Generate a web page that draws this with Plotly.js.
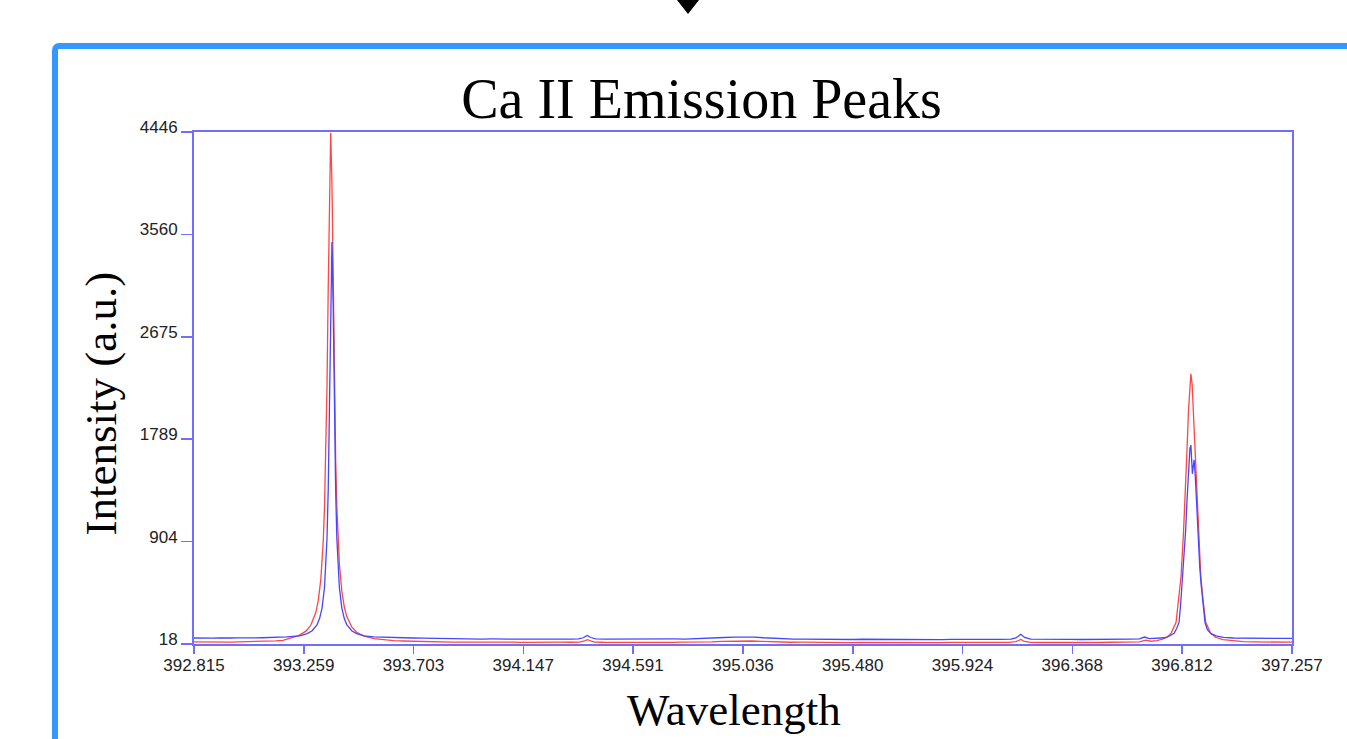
<!DOCTYPE html>
<html>
<head>
<meta charset="utf-8">
<script src="https://cdn.plot.ly/plotly-3.0.1.min.js"></script>
<style>
  html, body { margin: 0; padding: 0; background: #ffffff; overflow: hidden; }
  #pointer {
    position: absolute; left: 677px; top: 0px; width: 0; height: 0;
    border-left: 11.5px solid transparent; border-right: 11.5px solid transparent;
    border-top: 14px solid #000000;
  }
  #panel {
    position: absolute; left: 52px; top: 43px; width: 1400px; height: 800px;
    border-left: 6px solid #3399ff; border-top: 6px solid #3399ff;
    border-top-left-radius: 7px;
  }
  #chart { position: absolute; left: 0; top: 0; width: 1347px; height: 739px; }
</style>
</head>
<body>
<div id="pointer"></div>
<div id="panel"></div>
<div id="chart"></div>
<script>
// Ca II H & K emission spectra, two acquisitions (red and blue)
const wavelengthRed = [
  392.815, 392.845, 392.875, 392.905, 392.935, 392.965, 392.995, 393.025, 393.055, 393.085,
  393.115, 393.145, 393.175, 393.198, 393.238, 393.268, 393.288, 393.308, 393.318, 393.328,
  393.338, 393.343, 393.348, 393.353, 393.358, 393.363, 393.368, 393.373, 393.378, 393.383,
  393.388, 393.393, 393.398, 393.403, 393.413, 393.423, 393.433, 393.453, 393.473, 393.503,
  393.543, 393.593, 393.623, 393.66, 393.70, 393.74, 393.78, 393.82, 393.86, 393.90,
  393.94, 393.98, 394.02, 394.06, 394.10, 394.14, 394.18, 394.22, 394.26, 394.30,
  394.34, 394.375, 394.395, 394.408, 394.42, 394.435, 394.47, 394.51, 394.55, 394.59,
  394.63, 394.67, 394.71, 394.75, 394.79, 394.83, 394.87, 394.91, 394.95, 394.99,
  395.03, 395.07, 395.11, 395.15, 395.19, 395.23, 395.27, 395.31, 395.35, 395.39,
  395.43, 395.47, 395.51, 395.55, 395.59, 395.63, 395.67, 395.71, 395.75, 395.79,
  395.83, 395.87, 395.91, 395.95, 395.99, 396.03, 396.07, 396.11, 396.14, 396.16,
  396.175, 396.20, 396.24, 396.28, 396.32, 396.36, 396.40, 396.44, 396.48, 396.52,
  396.56, 396.60, 396.64, 396.665, 396.685, 396.71, 396.73, 396.75, 396.768, 396.788,
  396.798, 396.808, 396.818, 396.823, 396.828, 396.833, 396.838, 396.843, 396.848, 396.853,
  396.858, 396.863, 396.868, 396.873, 396.878, 396.888, 396.898, 396.908, 396.928, 396.948,
  396.978, 397.02, 397.06, 397.10, 397.14, 397.18, 397.22, 397.257
];
const intensityRed = [
  36, 35, 37, 34, 36, 35, 37, 38, 37, 40,
  42, 45, 50, 66, 90, 129, 182, 292, 397, 577,
  916, 1202, 1623, 2242, 3091, 4009, 4440, 4009, 3091, 2242,
  1623, 1202, 916, 718, 474, 338, 255, 166, 120, 86,
  64, 52, 47, 44, 41, 39, 37, 36, 35, 34,
  35, 33, 34, 33, 35, 32, 34, 33, 32, 34,
  33, 35, 45, 56, 44, 35, 33, 32, 34, 33,
  32, 34, 33, 32, 34, 33, 35, 37, 40, 43,
  45, 44, 41, 37, 35, 33, 34, 32, 33, 31,
  32, 30, 32, 31, 30, 32, 31, 30, 32, 31,
  30, 32, 31, 30, 32, 31, 30, 32, 38, 58,
  40, 32, 31, 30, 32, 31, 30, 32, 31, 33,
  32, 34, 36, 52, 42, 48, 58, 75, 112, 205,
  380, 600, 979, 1189, 1444, 1735, 2030, 2262, 2355, 2262,
  2030, 1735, 1444, 1189, 979, 600, 380, 205, 110, 76,
  55, 44, 38, 36, 35, 34, 33, 34
];

const wavelengthBlue = [
  392.815, 392.84, 392.865, 392.89, 392.915, 392.94, 392.965, 392.99, 393.015, 393.04,
  393.065, 393.09, 393.115, 393.14, 393.165, 393.19, 393.243, 393.273, 393.293, 393.313,
  393.323, 393.333, 393.343, 393.348, 393.353, 393.358, 393.363, 393.368, 393.373, 393.378,
  393.383, 393.388, 393.393, 393.398, 393.403, 393.413, 393.423, 393.433, 393.453, 393.473,
  393.503, 393.543, 393.583, 393.62, 393.66, 393.70, 393.74, 393.78, 393.82, 393.86,
  393.90, 393.94, 393.98, 394.02, 394.06, 394.10, 394.14, 394.18, 394.22, 394.26,
  394.30, 394.34, 394.37, 394.39, 394.405, 394.42, 394.44, 394.48, 394.52, 394.56,
  394.60, 394.64, 394.68, 394.72, 394.76, 394.80, 394.84, 394.88, 394.92, 394.96,
  395.00, 395.04, 395.08, 395.12, 395.16, 395.20, 395.24, 395.28, 395.32, 395.36,
  395.40, 395.44, 395.48, 395.52, 395.56, 395.60, 395.64, 395.68, 395.72, 395.76,
  395.80, 395.84, 395.88, 395.92, 395.96, 396.00, 396.04, 396.08, 396.12, 396.14,
  396.16, 396.175, 396.20, 396.24, 396.28, 396.32, 396.36, 396.40, 396.44, 396.48,
  396.52, 396.56, 396.60, 396.64, 396.66, 396.68, 396.71, 396.74, 396.76, 396.78,
  396.79, 396.800, 396.807, 396.815, 396.822, 396.827, 396.832, 396.836, 396.840, 396.844,
  396.848, 396.851, 396.854, 396.858, 396.861, 396.865, 396.868, 396.872, 396.876, 396.880,
  396.884, 396.890, 396.897, 396.905, 396.915, 396.93, 396.95, 396.98, 397.02, 397.06,
  397.10, 397.14, 397.18, 397.22, 397.257
];
const intensityBlue = [
  70, 68, 71, 69, 70, 68, 70, 71, 69, 70,
  71, 72, 73, 75, 77, 80, 89, 108, 133, 186,
  238, 329, 509, 672, 929, 1349, 2036, 2963, 3495, 2963,
  2036, 1349, 929, 672, 509, 329, 238, 186, 133, 108,
  89, 80, 76, 74, 72, 70, 68, 66, 64, 63,
  62, 63, 61, 62, 60, 62, 60, 61, 59, 61,
  60, 61, 62, 72, 92, 74, 62, 60, 61, 59,
  60, 59, 61, 60, 62, 61, 63, 66, 70, 74,
  78, 80, 78, 72, 66, 62, 60, 61, 59, 60,
  58, 59, 57, 59, 58, 57, 59, 58, 56, 58,
  57, 56, 58, 57, 56, 58, 57, 58, 60, 70,
  102, 75, 60, 58, 57, 59, 58, 57, 59, 58,
  60, 59, 61, 62, 78, 64, 66, 72, 85, 110,
  150, 205, 375, 620, 880, 1010, 1250, 1450, 1620, 1710,
  1738, 1600, 1490, 1560, 1610, 1500, 1350, 1180, 990, 820,
  680, 520, 375, 205, 140, 108, 88, 76, 70, 68,
  67, 68, 66, 67, 66
];

const xTickValues = [392.815, 393.259, 393.703, 394.147, 394.591, 395.036, 395.480, 395.924, 396.368, 396.812, 397.257];
const xTickText = ["392.815", "393.259", "393.703", "394.147", "394.591", "395.036", "395.480", "395.924", "396.368", "396.812", "397.257"];
const yTickValues = [18, 904, 1789, 2675, 3560, 4446];
const yTickText = ["18", "904", "1789", "2675", "3560", "4446"];

const frameColor = "rgb(110,110,255)";
const serif = "'Liberation Serif', 'Times New Roman', serif";
const sans = "'Liberation Sans', Arial, sans-serif";

const traces = [
  {
    x: wavelengthRed, y: intensityRed, type: "scatter", mode: "lines",
    line: { color: "rgb(255,70,70)", width: 1.3 }, hoverinfo: "x+y", showlegend: false
  },
  {
    x: wavelengthBlue, y: intensityBlue, type: "scatter", mode: "lines",
    line: { color: "rgb(70,70,255)", width: 1.3 }, hoverinfo: "x+y", showlegend: false
  }
];

const layout = {
  width: 1347, height: 739,
  margin: { l: 194, r: 55, t: 132, b: 95, pad: 0 },
  paper_bgcolor: "rgba(0,0,0,0)",
  plot_bgcolor: "#ffffff",
  showlegend: false,
  title: {
    text: "Ca II Emission Peaks",
    font: { family: serif, size: 56, color: "#000000" },
    xref: "container", x: 0.5208, xanchor: "center",
    yref: "container", y: 0.8668, yanchor: "middle"
  },
  xaxis: {
    range: [392.815, 397.257], autorange: false,
    tickmode: "array", tickvals: xTickValues, ticktext: xTickText,
    ticks: "outside", ticklen: 8, tickwidth: 1.5, tickcolor: frameColor,
    ticklabelstandoff: -3,
    showline: true, linecolor: frameColor, linewidth: 2, mirror: true,
    showgrid: false, zeroline: false,
    tickfont: { family: sans, size: 17, color: "#222222" }
  },
  yaxis: {
    range: [18, 4446], autorange: false,
    tickmode: "array", tickvals: yTickValues, ticktext: yTickText,
    ticks: "outside", ticklen: 11, tickwidth: 1.5, tickcolor: frameColor,
    ticklabelshift: -5,
    showline: true, linecolor: frameColor, linewidth: 2, mirror: true,
    showgrid: false, zeroline: false,
    tickfont: { family: sans, size: 17, color: "#222222" }
  },
  annotations: [
    {
      text: "Wavelength", xref: "paper", yref: "paper",
      x: 0.4918, y: -0.129, xanchor: "center", yanchor: "middle",
      showarrow: false, font: { family: serif, size: 45, color: "#000000" }
    },
    {
      text: "Intensity (a.u.)", xref: "paper", yref: "paper",
      x: -0.085, y: 0.469, xanchor: "center", yanchor: "middle", textangle: -90,
      showarrow: false, font: { family: serif, size: 45, color: "#000000" }
    }
  ]
};

Plotly.newPlot("chart", traces, layout, { displayModeBar: false, staticPlot: true });
</script>
</body>
</html>
